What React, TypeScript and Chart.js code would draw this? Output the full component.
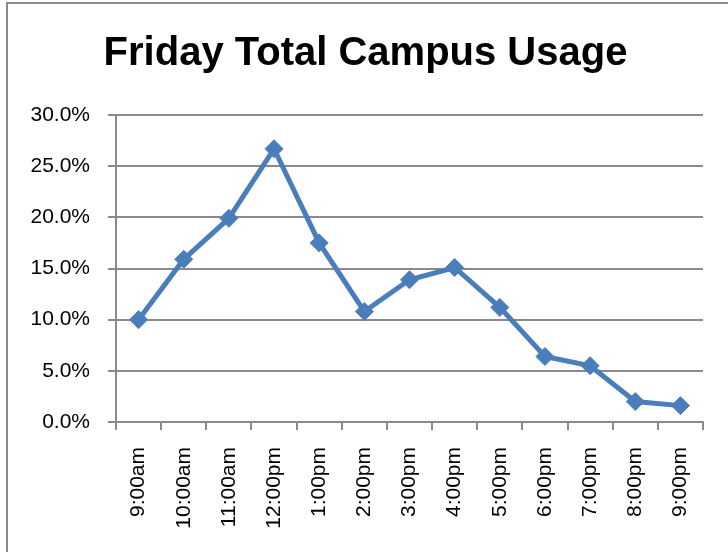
import React, { useEffect, useRef } from "react";
import { Chart, registerables } from "chart.js";

Chart.register(...registerables);

const titleText = "Friday Total Campus Usage";
const categories = ["9:00am", "10:00am", "11:00am", "12:00pm", "1:00pm", "2:00pm", "3:00pm", "4:00pm", "5:00pm", "6:00pm", "7:00pm", "8:00pm", "9:00pm"];
const usage = [10.0, 15.9, 19.9, 26.7, 17.5, 10.8, 13.9, 15.1, 11.2, 6.4, 5.5, 2.0, 1.6];
const yTicks = [0, 5, 10, 15, 20, 25, 30];

export default function App() {
  const ref = useRef<HTMLCanvasElement | null>(null);

  useEffect(() => {
    if (!ref.current) return;
    const grey = "#8a8a8a";
    const blue = "#4a7ebb";
    const font = "'Liberation Sans', Arial, sans-serif";
    const chart = new Chart(ref.current, {
      type: "line",
      data: {
        labels: categories,
        datasets: [
          {
            data: usage,
            borderColor: blue,
            backgroundColor: blue,
            borderWidth: 5,
            pointStyle: "rectRot",
            pointRadius: 9,
            pointBorderWidth: 1,
            pointBackgroundColor: blue,
            pointBorderColor: blue,
            tension: 0,
          },
        ],
      },
      options: {
        animation: false,
        responsive: false,
        maintainAspectRatio: false,
        layout: { padding: { left: 28, right: 25, top: 0, bottom: 0 } },
        plugins: {
          legend: { display: false },
          tooltip: { enabled: false },
          title: {
            display: true,
            text: titleText,
            color: "#000",
            font: { family: font, size: 40, weight: "bold", lineHeight: 1 },
            padding: { top: 34, bottom: 41 },
          },
        },
        scales: {
          x: {
            type: "category",
            offset: true,
            grid: {
              display: true,
              drawOnChartArea: false,
              drawTicks: true,
              tickLength: 8,
              offset: true,
              color: grey,
              lineWidth: 2,
            },
            border: { display: true, color: grey, width: 2 },
            ticks: {
              autoSkip: false,
              minRotation: 90,
              maxRotation: 90,
              padding: 17,
              color: "#000",
              font: { family: font, size: 21 },
            },
            afterFit: (scale: any) => {
              scale.height = 130;
            },
          },
          y: {
            min: 0,
            max: 30,
            afterBuildTicks: (scale: any) => {
              scale.ticks = yTicks.map((v) => ({ value: v }));
            },
            grid: {
              display: true,
              drawTicks: true,
              tickLength: 8,
              color: grey,
              lineWidth: 2,
            },
            border: { display: true, color: grey, width: 2 },
            ticks: {
              padding: 18,
              color: "#000",
              font: { family: font, size: 21 },
              callback: (v: any) => Number(v).toFixed(1) + "%",
            },
            afterFit: (scale: any) => {
              scale.width = 88;
            },
          },
        },
      },
    });
    return () => chart.destroy();
  }, []);

  return (
    <div style={{ position: "fixed", left: 0, top: 0, width: 728, height: 552, overflow: "hidden", background: "#fff" }}>
      <div
        style={{
          position: "absolute",
          left: 6,
          top: 2,
          width: 800,
          height: 700,
          border: "2px solid #8a8a8a",
          boxSizing: "border-box",
        }}
      />
      <canvas ref={ref} width={728} height={552} style={{ position: "absolute", left: 0, top: 0, width: 728, height: 552 }} />
    </div>
  );
}
